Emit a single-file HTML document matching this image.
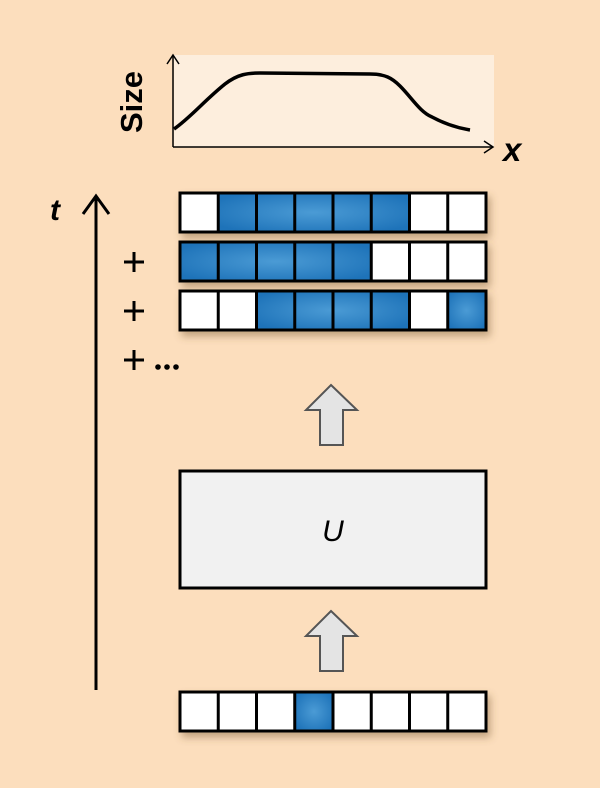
<!DOCTYPE html>
<html><head><style>html,body{margin:0;padding:0;background:#FCDEBD;}</style></head><body>
<svg width="600" height="788" xmlns="http://www.w3.org/2000/svg" style="display:block">
<defs>
<radialGradient id="b" cx="50%" cy="50%" r="60%"><stop offset="0" stop-color="#4B9BD5"/><stop offset="1" stop-color="#1E73B9"/></radialGradient>
<filter id="s" x="-10%" y="-30%" width="130%" height="180%"><feDropShadow dx="3" dy="5" stdDeviation="4" flood-color="#7a5a30" flood-opacity="0.45"/></filter>
</defs>
<rect width="600" height="788" fill="#FCDEBD"/>
<rect x="174" y="55" width="320" height="92" fill="#FDEEDD"/>
<line x1="173" y1="55" x2="173" y2="147" stroke="#000" stroke-width="1.5"/>
<line x1="173" y1="147" x2="493" y2="147" stroke="#000" stroke-width="1.5"/>
<polyline points="167,64 173,55 179,64" fill="none" stroke="#000" stroke-width="1.5"/>
<polyline points="484,141 493,147 484,153" fill="none" stroke="#000" stroke-width="1.5"/>
<path d="M174,129 C190,118 205,100 225,84 C238,74 248,73 260,73 L370,74 C385,74 392,78 400,86 C412,98 420,112 432,117 C445,124 458,128 470,130" fill="none" stroke="#000" stroke-width="3.5"/>
<text transform="translate(142,102) rotate(-90)" text-anchor="middle" style="font-family:'Liberation Sans',sans-serif;font-weight:bold;font-size:31px">Size</text>
<text x="503" y="161" style="font-family:'Liberation Sans',sans-serif;font-weight:bold;font-style:italic;font-size:33px">x</text>
<line x1="96" y1="197" x2="96" y2="690" stroke="#000" stroke-width="3"/>
<polyline points="83,214 96,196 109,214" fill="none" stroke="#000" stroke-width="3"/>
<text x="50" y="220" style="font-family:'Liberation Sans',sans-serif;font-weight:bold;font-style:italic;font-size:30px">t</text>
<g stroke="#000" stroke-width="3">
<path d="M124,262h20M134,252v20"/>
<path d="M124,311h20M134,301v20"/>
<path d="M124,360h20M134,350v20"/>
</g>
<g fill="#000"><circle cx="158" cy="367" r="2.8"/><circle cx="167" cy="367" r="2.8"/><circle cx="176" cy="367" r="2.8"/></g>
<g stroke="#000" stroke-width="3">
<g filter="url(#s)"><rect x="180" y="193" width="306" height="39" fill="#fff"/></g>
<g filter="url(#s)"><rect x="180" y="242" width="306" height="39" fill="#fff"/></g>
<g filter="url(#s)"><rect x="180" y="291" width="306" height="39" fill="#fff"/></g>
<g filter="url(#s)"><rect x="180" y="692" width="306" height="39" fill="#fff"/></g>
</g>
<g fill="url(#b)">
<rect x="218" y="193" width="191" height="39"/>
<rect x="180" y="242" width="191" height="39"/>
<rect x="256" y="291" width="153" height="39"/>
<rect x="447" y="291" width="39" height="39"/>
<rect x="295" y="692" width="38" height="39"/>
</g>
<g stroke="#000" stroke-width="3" fill="none">
<rect x="180" y="193" width="306" height="39"/>
<rect x="180" y="242" width="306" height="39"/>
<rect x="180" y="291" width="306" height="39"/>
<rect x="180" y="692" width="306" height="39"/>
<path d="M218.25,193v39M256.5,193v39M294.75,193v39M333,193v39M371.25,193v39M409.5,193v39M447.75,193v39
M218.25,242v39M256.5,242v39M294.75,242v39M333,242v39M371.25,242v39M409.5,242v39M447.75,242v39
M218.25,291v39M256.5,291v39M294.75,291v39M333,291v39M371.25,291v39M409.5,291v39M447.75,291v39
M218.25,692v39M256.5,692v39M294.75,692v39M333,692v39M371.25,692v39M409.5,692v39M447.75,692v39"/>
</g>
<path d="M331,385 L357,410 L343,410 L343,445 L320,445 L320,410 L306,410 Z" fill="#E4E4E4" stroke="#555" stroke-width="2"/>
<path d="M331,611 L357,636 L343,636 L343,671 L320,671 L320,636 L306,636 Z" fill="#E4E4E4" stroke="#555" stroke-width="2"/>
<rect x="180" y="471" width="306" height="117" fill="#F1F1F1" stroke="#000" stroke-width="3"/>
<text x="333" y="541" text-anchor="middle" style="font-family:'Liberation Sans',sans-serif;font-style:italic;font-size:30px">U</text>
</svg>
</body></html>
